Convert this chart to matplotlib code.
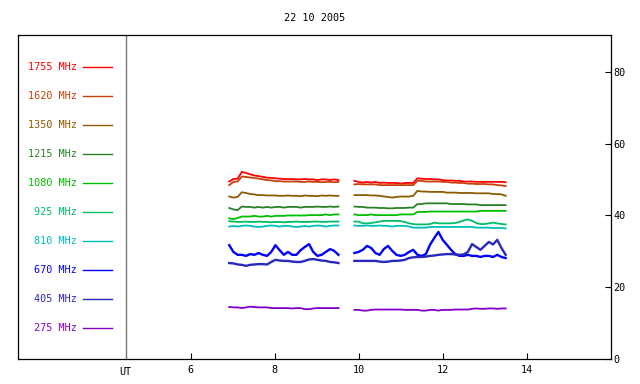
# Solar radio flux, 22 10 2005
# One line per frequency, two observing blocks with a gap near 9.7 UT

import matplotlib
matplotlib.use("Agg")
import matplotlib.pyplot as plt
import matplotlib.transforms as mtransforms


TITLE = "22 10 2005"

# sample times (UT hours)
t_morning = [6.92, 7.02, 7.12, 7.22, 7.32, 7.42, 7.52, 7.62, 7.72, 7.82,
             7.92, 8.02, 8.12, 8.22, 8.32, 8.42, 8.52, 8.62, 8.72, 8.82,
             8.92, 9.02, 9.12, 9.22, 9.32, 9.42, 9.52]
t_midday = [9.9, 10.0, 10.1, 10.2, 10.3, 10.4, 10.5, 10.6, 10.7, 10.8,
            10.9, 11.0, 11.1, 11.2, 11.3, 11.4, 11.5, 11.6, 11.7, 11.8,
            11.9, 12.0, 12.1, 12.2, 12.3, 12.4, 12.5, 12.6, 12.7, 12.8,
            12.9, 13.0, 13.1, 13.2, 13.3, 13.4, 13.5]

freqs = ["1755", "1620", "1350", "1215", "1080", "925", "810", "670", "405", "275"]
colors = ["#ff0000", "#c8400a", "#8c5a00", "#288228", "#00be00",
          "#00be64", "#00bebe", "#0000ff", "#2828be", "#8200c8"]

# flux values, morning block
f1755_a = [49.5, 50.2, 50.3, 52.2, 51.9, 51.5, 51.2, 51.0, 50.8, 50.6, 50.5, 50.4, 50.3, 50.2,
           50.2, 50.2, 50.1, 50.1, 50.2, 50.1, 50.1, 49.9, 50.1, 50.1, 49.9, 50.1, 49.9]
f1620_a = [48.5, 49.4, 49.5, 50.9, 50.8, 50.6, 50.5, 50.3, 50.1, 49.9, 49.8, 49.6, 49.6, 49.5,
           49.5, 49.5, 49.5, 49.4, 49.4, 49.5, 49.4, 49.4, 49.3, 49.4, 49.4, 49.3, 49.4]
f1350_a = [45.3, 45.0, 45.2, 46.5, 46.3, 46.0, 45.9, 45.7, 45.7, 45.6, 45.6, 45.6, 45.5, 45.5,
           45.6, 45.5, 45.5, 45.4, 45.6, 45.5, 45.5, 45.4, 45.6, 45.5, 45.6, 45.5, 45.5]
f1215_a = [42.1, 41.7, 41.5, 42.5, 42.4, 42.4, 42.2, 42.4, 42.2, 42.4, 42.2, 42.4, 42.4, 42.2,
           42.4, 42.4, 42.4, 42.2, 42.4, 42.4, 42.4, 42.5, 42.4, 42.4, 42.5, 42.4, 42.5]
f1080_a = [39.2, 39.0, 39.3, 39.7, 39.7, 39.7, 39.9, 39.7, 39.7, 39.9, 39.7, 39.9, 39.9, 39.9,
           40.0, 40.0, 40.0, 40.0, 40.0, 40.1, 40.1, 40.1, 40.1, 40.3, 40.1, 40.3, 40.3]
f925_a = [38.4, 38.3, 38.2, 38.2, 38.3, 38.2, 38.2, 38.3, 38.2, 38.2, 38.1, 38.2, 38.2, 38.1,
          38.2, 38.2, 38.3, 38.2, 38.2, 38.2, 38.3, 38.3, 38.2, 38.2, 38.3, 38.3, 38.3]
f810_a = [36.9, 37.1, 36.9, 37.1, 37.2, 37.1, 36.9, 36.8, 36.9, 37.1, 37.2, 37.1, 36.9, 37.1,
          37.1, 36.9, 36.8, 36.9, 37.1, 36.9, 37.1, 37.2, 37.1, 36.9, 37.1, 37.2, 37.2]
f670_a = [31.7, 29.8, 29.0, 29.0, 28.7, 29.2, 29.0, 29.5, 29.0, 28.7, 29.8, 31.7, 30.3, 29.0,
          29.8, 29.0, 29.0, 30.3, 31.2, 32.0, 29.8, 28.7, 29.0, 29.8, 30.6, 30.1, 29.0]
f405_a = [26.7, 26.6, 26.3, 26.2, 25.9, 26.2, 26.3, 26.4, 26.4, 26.3, 27.0, 27.6, 27.4, 27.3,
          27.3, 27.1, 27.0, 27.0, 27.3, 27.7, 27.8, 27.6, 27.4, 27.3, 27.0, 26.9, 26.7]
f275_a = [14.4, 14.3, 14.3, 14.1, 14.3, 14.5, 14.4, 14.3, 14.3, 14.3, 14.1, 14.1, 14.1, 14.1,
          14.1, 14.0, 14.1, 14.1, 13.8, 13.8, 14.0, 14.1, 14.1, 14.1, 14.1, 14.1, 14.1]

# flux values, midday block
f1755_b = [49.7, 49.4, 49.2, 49.4, 49.2, 49.4, 49.1, 49.2, 49.1, 49.1, 49.1, 48.9, 49.1, 49.1,
           49.1, 50.4, 50.3, 50.2, 50.2, 50.1, 50.1, 49.9, 49.8, 49.8, 49.7, 49.7, 49.5, 49.5,
           49.5, 49.4, 49.4, 49.4, 49.4, 49.4, 49.4, 49.4, 49.3]
f1620_b = [48.7, 48.8, 48.7, 48.7, 48.7, 48.7, 48.5, 48.5, 48.5, 48.5, 48.5, 48.5, 48.5, 48.5,
           48.5, 49.7, 49.7, 49.5, 49.5, 49.5, 49.5, 49.4, 49.4, 49.2, 49.2, 49.1, 49.1, 48.9,
           48.9, 48.8, 48.8, 48.8, 48.7, 48.7, 48.5, 48.4, 48.2]
f1350_b = [45.7, 45.7, 45.7, 45.7, 45.6, 45.6, 45.5, 45.3, 45.2, 45.0, 45.2, 45.3, 45.3, 45.3,
           45.5, 46.9, 46.7, 46.7, 46.6, 46.6, 46.6, 46.6, 46.4, 46.4, 46.4, 46.3, 46.3, 46.3,
           46.3, 46.2, 46.2, 46.2, 46.2, 46.0, 46.0, 45.9, 45.5]
f1215_b = [42.5, 42.4, 42.4, 42.2, 42.2, 42.2, 42.1, 42.1, 42.0, 42.0, 42.1, 42.1, 42.1, 42.2,
           42.2, 43.2, 43.2, 43.4, 43.4, 43.4, 43.4, 43.4, 43.4, 43.2, 43.2, 43.2, 43.2, 43.1,
           43.1, 43.1, 42.9, 42.9, 42.9, 42.9, 42.9, 42.9, 42.9]
f1080_b = [40.3, 40.1, 40.1, 40.1, 40.3, 40.1, 40.1, 40.1, 40.1, 40.1, 40.1, 40.3, 40.3, 40.3,
           40.3, 41.0, 41.0, 41.0, 41.1, 41.1, 41.1, 41.1, 41.1, 41.1, 41.1, 41.1, 41.1, 41.1,
           41.1, 41.1, 41.3, 41.3, 41.3, 41.3, 41.3, 41.3, 41.3]
f925_b = [38.3, 38.3, 37.8, 37.8, 37.9, 38.1, 38.3, 38.5, 38.5, 38.5, 38.5, 38.4, 38.2, 37.8,
          37.6, 37.5, 37.5, 37.5, 37.6, 38.0, 37.8, 37.8, 37.8, 37.8, 37.9, 38.2, 38.6, 38.9,
          38.5, 37.9, 37.6, 37.6, 37.8, 38.0, 37.8, 37.6, 37.5]
f810_b = [37.2, 37.1, 37.1, 37.2, 37.1, 37.1, 37.2, 37.1, 37.1, 36.9, 37.1, 37.1, 37.1, 36.9,
          36.6, 36.6, 36.6, 36.6, 36.8, 36.8, 36.8, 36.8, 36.8, 36.8, 36.8, 36.8, 36.8, 36.8,
          36.8, 36.6, 36.6, 36.6, 36.6, 36.5, 36.5, 36.5, 36.4]
f670_b = [29.5, 29.8, 30.4, 31.5, 30.9, 29.5, 29.0, 30.6, 31.5, 30.1, 29.0, 28.7, 29.0, 29.8,
          30.4, 29.0, 28.7, 29.2, 31.8, 33.7, 35.4, 33.2, 31.8, 30.4, 29.2, 28.7, 28.7, 29.0,
          28.7, 28.7, 28.4, 28.7, 28.7, 28.4, 29.0, 28.4, 28.1]
f405_b = [27.3, 27.3, 27.3, 27.3, 27.3, 27.3, 27.1, 27.0, 27.1, 27.3, 27.3, 27.4, 27.6, 28.1,
          28.3, 28.4, 28.4, 28.5, 28.7, 28.8, 29.0, 29.1, 29.2, 29.2, 29.1, 29.0, 29.1, 29.8,
          32.0, 31.2, 30.4, 31.5, 32.6, 31.9, 33.2, 30.9, 29.0]
f275_b = [13.6, 13.6, 13.4, 13.4, 13.6, 13.7, 13.7, 13.7, 13.7, 13.7, 13.7, 13.7, 13.6, 13.6,
          13.6, 13.6, 13.4, 13.4, 13.6, 13.6, 13.4, 13.6, 13.6, 13.6, 13.7, 13.7, 13.7, 13.7,
          13.9, 14.0, 13.9, 13.9, 14.0, 14.0, 13.9, 14.0, 14.0]

morning = [f1755_a, f1620_a, f1350_a, f1215_a, f1080_a, f925_a, f810_a, f670_a, f405_a, f275_a]
midday = [f1755_b, f1620_b, f1350_b, f1215_b, f1080_b, f925_b, f810_b, f670_b, f405_b, f275_b]

x_ticks = [6, 8, 10, 12, 14]
y_ticks = [0, 20, 40, 60, 80]

FONT = "DejaVu Sans Mono"
FS = 7.3


def main():
    plt.rcParams["font.family"] = FONT
    plt.rcParams["font.size"] = FS

    fig = plt.figure(figsize=(6.4, 3.84), dpi=100)
    ax = fig.add_axes([0.0286, 0.0664, 0.9256, 0.8417])

    # noisy channels look thicker in the original
    for name, col, ya, yb in zip(freqs, colors, morning, midday):
        lw = 1.7 if name in ("670", "405") else 1.3
        ax.plot(t_morning, ya, color=col, lw=lw)
        ax.plot(t_midday, yb, color=col, lw=lw)

    ax.set_xlim(1.9, 16.0)
    ax.set_ylim(0, 90.4)

    # the legend block sits in the left part of the frame
    ut_x = 4.452
    ax.axvline(ut_x, color="#777777", lw=1.0)
    for i, (name, col) in enumerate(zip(freqs, colors)):
        yf = 0.901 - 0.0897 * i
        y = yf * 90.4
        ax.plot([3.445, 4.129], [y, y], color=col, lw=1.0)
        ax.text(3.30, y, f"{name} MHz", color=col, ha="right", va="center")

    # ticks
    ax.set_xticks(x_ticks)
    ax.set_xticklabels([str(v) for v in x_ticks])
    ax.yaxis.tick_right()
    ax.set_yticks(y_ticks)
    ax.tick_params(axis="x", direction="in", length=4, width=0.8, pad=5)
    ax.tick_params(axis="y", direction="in", length=4, width=0.8, pad=2,
                   left=False, right=True, labelleft=False, labelright=True)
    for sp in ax.spines.values():
        sp.set_linewidth(0.9)

    trans = mtransforms.blended_transform_factory(ax.transData, ax.transAxes)
    ax.text(ut_x, -0.025, "UT", transform=trans, ha="center", va="top")

    fig.text(0.491, 1 - 18 / 384, TITLE, ha="center", va="center")

    fig.savefig("out.png", dpi=100)


if __name__ == "__main__":
    main()
